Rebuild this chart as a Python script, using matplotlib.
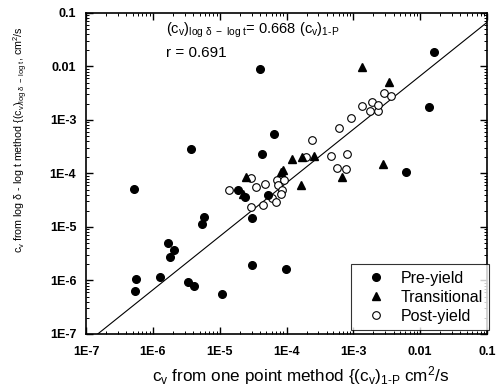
import matplotlib
matplotlib.use("Agg")
import matplotlib.pyplot as plt
import numpy as np
from matplotlib.ticker import LogLocator, FixedLocator, FixedFormatter, NullFormatter

plt.rcParams['font.family'] = ['Liberation Sans', 'DejaVu Sans']
plt.rcParams['mathtext.fontset'] = 'custom'
plt.rcParams['mathtext.rm'] = 'Liberation Sans'
plt.rcParams['mathtext.it'] = 'Liberation Sans'
plt.rcParams['mathtext.bf'] = 'Liberation Sans:bold'
plt.rcParams['mathtext.default'] = 'regular'

# Pre-yield (filled circles)
pre_x = [0.0161, 3.95e-5, 0.0134, 6.4e-5, 3.66e-6, 4.3e-5, 6.2e-3, 5.3e-7, 1.87e-5,
         2.42e-5, 5.27e-5, 3.08e-5, 5.74e-6, 5.42e-6, 1.66e-6, 2.06e-6, 1.78e-6,
         3.08e-5, 9.7e-5, 5.57e-7, 1.29e-6, 5.38e-7, 3.39e-6, 4.2e-6, 1.08e-5]
pre_y = [0.0184, 8.9e-3, 1.77e-3, 5.4e-4, 2.9e-4, 2.28e-4, 1.05e-4, 5.2e-5, 4.9e-5,
         3.59e-5, 3.96e-5, 1.45e-5, 1.56e-5, 1.15e-5, 4.95e-6, 3.66e-6, 2.75e-6,
         1.95e-6, 1.64e-6, 1.05e-6, 1.16e-6, 6.3e-7, 9.25e-7, 7.9e-7, 5.6e-7]

# Transitional (filled triangles)
tra_x = [1.33e-3, 3.41e-3, 1.2e-4, 1.73e-4, 2.57e-4, 2.75e-3, 8.2e-5, 9.0e-5,
         2.5e-5, 6.8e-4, 1.63e-4, 2.2e-5]
tra_y = [9.9e-3, 5.2e-3, 1.87e-4, 2.01e-4, 2.15e-4, 1.49e-4, 1.08e-4, 1.16e-4,
         8.5e-5, 8.5e-5, 6.0e-5, 4.2e-5]

# Post-yield (open circles)
post_x = [2.87e-3, 3.71e-3, 1.92e-3, 1.35e-3, 1.77e-3, 2.33e-3, 2.33e-3, 9.2e-4,
          6.0e-4, 2.4e-4, 1.98e-4, 4.7e-4, 8.1e-4, 5.6e-4, 7.7e-4, 2.97e-5,
          7.1e-5, 9.1e-5, 3.53e-5, 4.8e-5, 7.4e-5, 1.37e-5, 8.6e-5, 2.9e-5,
          4.4e-5, 6.0e-5, 7.0e-5, 8.4e-5]
post_y = [3.15e-3, 2.84e-3, 2.17e-3, 1.83e-3, 1.49e-3, 1.49e-3, 1.91e-3, 1.1e-3,
          7.2e-4, 4.2e-4, 2.06e-4, 2.15e-4, 2.34e-4, 1.25e-4, 1.2e-4, 8.4e-5,
          7.6e-5, 7.6e-5, 5.7e-5, 6.3e-5, 6.0e-5, 4.9e-5, 4.9e-5, 2.4e-5,
          2.58e-5, 3.44e-5, 2.97e-5, 4.14e-5]

slope = 0.668
r_value = 0.691
tick_vals = [1e-7, 1e-6, 1e-5, 1e-4, 1e-3, 1e-2, 1e-1]
tick_labels = ['1E-7', '1E-6', '1E-5', '1E-4', '1E-3', '0.01', '0.1']

fig = plt.figure(figsize=(4.96, 3.90), dpi=100)
ax = fig.add_axes([0.1734, 0.1436, 0.8085, 0.8231])

ax.set_xscale('log')
ax.set_yscale('log')
ax.set_xlim(1e-7, 0.1)
ax.set_ylim(1e-7, 0.1)

xl = np.array([1e-7, 0.1])
ax.plot(xl, slope * xl, color='black', lw=0.8, zorder=1)

ax.plot(pre_x, pre_y, 'o', ms=5.5, mfc='black', mec='black', ls='none',
        label='Pre-yield', zorder=3)
ax.plot(tra_x, tra_y, '^', ms=6.3, mfc='black', mec='black', ls='none',
        label='Transitional', zorder=3)
ax.plot(post_x, post_y, 'o', ms=5.5, mfc='white', mec='black', mew=0.8, ls='none',
        label='Post-yield', zorder=2)

for a in (ax.xaxis, ax.yaxis):
    a.set_major_locator(FixedLocator(tick_vals))
    a.set_major_formatter(FixedFormatter(tick_labels))
    a.set_minor_locator(LogLocator(base=10, subs=np.arange(2, 10), numticks=20))
    a.set_minor_formatter(NullFormatter())

ax.tick_params(which='both', direction='in', top=True, right=True)
ax.tick_params(which='major', length=5, width=1.0, labelsize=9)
ax.tick_params(axis='x', which='major', pad=9)
ax.tick_params(axis='y', which='major', pad=7)
ax.tick_params(which='minor', length=2.5, width=0.7)
for lab in ax.get_xticklabels() + ax.get_yticklabels():
    lab.set_fontweight('bold')
for s in ax.spines.values():
    s.set_linewidth(1.2)

ax.set_xlabel(r'c$_\mathregular{v}$ from one point method {(c$_\mathregular{v}$)$_\mathregular{1\text{-}P}$ cm$^\mathregular{2}$/s',
              fontsize=12.3)
ax.xaxis.set_label_coords(0.536, -0.093)
ax.set_ylabel(r'c$_\mathregular{v}$ from log $\delta$ - log t method {(c$_\mathregular{v}$)$_\mathregular{log\ \delta\ -\ log\ t}$, cm$^\mathregular{2}$/s',
              fontsize=7.7)
ax.yaxis.set_label_coords(-0.14, 0.605)

ax.text(0.2, 0.945, r'(c$_\mathregular{v}$)$_\mathregular{log\ \delta\ -\ log\ t}$= 0.668 (c$_\mathregular{v}$)$_\mathregular{1\text{-}P}$',
        transform=ax.transAxes, fontsize=10.5, va='center', ha='left')
ax.text(0.2, 0.875, 'r = %.3f' % r_value, transform=ax.transAxes, fontsize=11,
        va='center', ha='left')

leg = ax.legend(loc='lower right', bbox_to_anchor=(1.005, 0.012), fontsize=11.5,
                frameon=True, fancybox=False, edgecolor='black', borderaxespad=0,
                handletextpad=0.4, labelspacing=0.25, borderpad=0.4, handlelength=2.3)
leg.get_frame().set_linewidth(0.8)

fig.savefig('out.png', dpi=100)
